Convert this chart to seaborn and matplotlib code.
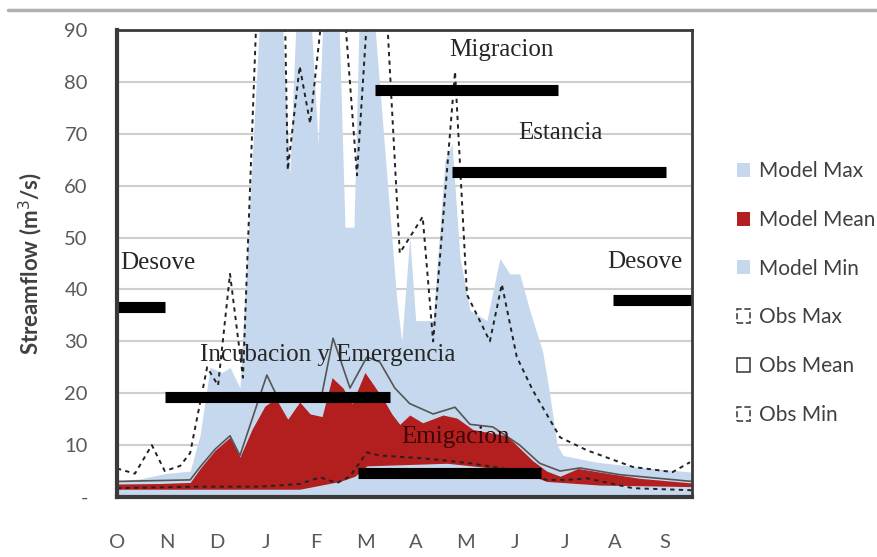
import numpy as np
import pandas as pd
import matplotlib
matplotlib.use("Agg")
import matplotlib.pyplot as plt
from matplotlib.patches import Patch
from matplotlib.lines import Line2D
import seaborn as sns

# x is months since 1 Oct (water year)
MONTH_LABELS = ["O", "N", "D", "J", "F", "M", "A", "M", "J", "J", "A", "S"]

max_x = [0.00, 0.46, 0.96, 1.47, 1.67, 1.87, 2.11, 2.27, 2.47, 2.91, 3.29, 3.47,
         3.61, 3.88, 4.04, 4.16, 4.44, 4.58, 4.76, 4.88, 5.12, 5.62, 5.72, 5.88,
         6.00, 6.35, 6.59, 6.73, 6.89, 7.09, 7.43, 7.69, 7.89, 8.09, 8.29, 8.55,
         8.69, 8.84, 8.96, 9.64, 10.64, 11.55]
max_y = [3.0, 3.5, 4.5, 5.0, 12, 25, 24, 25, 21, 100, 98, 62,
         95, 95, 68, 98, 98, 52, 52, 98, 98, 38, 30, 50,
         34, 34, 65, 68, 46, 36, 34, 46, 43, 43, 36, 28,
         20, 10, 8, 6.7, 5.6, 4.8]

mean_x = [0.00, 0.86, 1.47, 1.67, 1.97, 2.27, 2.47, 2.71, 2.97, 3.19, 3.43, 3.67,
          3.88, 4.12, 4.32, 4.54, 4.72, 4.98, 5.34, 5.52, 5.68, 5.88, 6.14, 6.55,
          6.83, 7.15, 7.83, 8.35, 8.63, 8.90, 9.26, 9.70, 10.50, 11.55]
mean_y = [2.5, 2.6, 2.8, 5.5, 9, 11.5, 7.7, 13, 17.5, 19, 15, 18.3,
          16, 15.5, 23, 21, 18, 24, 19, 16, 14, 15.8, 14.3, 15.8,
          15.2, 13, 11.8, 7, 5, 4, 5.5, 4.8, 3.6, 2.7]

min_x = [0.00, 3.67, 4.48, 4.78, 5.02, 6.63, 8.09, 8.63, 9.70, 11.55]
min_y = [1.5, 1.5, 3, 4, 6, 6.5, 5, 3, 2.3, 2.0]

obs_max_x = [0.00, 0.36, 0.70, 0.96, 1.27, 1.47, 1.81, 2.03, 2.27, 2.53, 2.81, 3.37,
             3.43, 3.67, 3.88, 4.14, 4.56, 4.82, 5.04, 5.41, 5.68, 6.14, 6.35, 6.79,
             7.03, 7.49, 7.73, 8.03, 8.35, 8.90, 9.44, 10.36, 11.16, 11.51]
obs_max_y = [5.5, 4.5, 10, 5, 6, 8.5, 25, 21.5, 43, 23, 95, 95,
             63, 83, 72, 95, 95, 62, 95, 95, 47, 54, 30, 82,
             39, 30, 41, 27, 20.6, 11.5, 9, 5.8, 4.8, 6.7]

obs_mean_x = [0.00, 1.47, 1.67, 1.97, 2.27, 2.47, 3.01, 3.21, 3.47, 3.78, 4.12, 4.34,
              4.68, 5.02, 5.28, 5.58, 5.88, 6.35, 6.79, 7.09, 7.55, 8.09, 8.49, 8.90,
              9.30, 10.10, 11.55]
obs_mean_y = [3.0, 3.3, 5.8, 9.2, 11.8, 8, 23.5, 19.5, 19, 19.5, 20, 30.6,
              21, 27, 26, 21, 18, 16, 17.3, 14, 13.5, 10, 6.5, 5,
              5.6, 4.3, 3.0]

obs_min_x = [0.00, 1.67, 2.87, 3.67, 4.08, 4.42, 4.68, 5.02, 5.28, 6.08, 6.63, 7.09,
             8.09, 8.63, 9.04, 9.44, 10.36, 11.55]
obs_min_y = [1.7, 2.0, 2.0, 2.5, 3.8, 2.7, 4.0, 8.6, 8.0, 7.5, 7.0, 6.5,
             5.0, 3.3, 3.3, 3.6, 1.7, 1.3]

# life stages: name, start month, end month, level
stage_names = ["Desove", "Incubacion y Emergencia", "Migracion", "Estancia", "Desove", "Emigacion"]
stage_start = [0.00, 0.96, 5.18, 6.73, 9.96, 4.84]
stage_end = [0.96, 5.48, 8.86, 11.02, 11.55, 8.51]
stage_level = [36.6, 19.3, 78.4, 62.6, 38.0, 4.6]

LIGHT_BLUE = "#c5d8ed"
RED = "#b31e1e"

sns.set_theme(style="white")
plt.rcParams["font.family"] = ["Lato", "DejaVu Sans"]

fig = plt.figure(figsize=(8.78, 5.57), dpi=100)
ax = fig.add_axes([117 / 878, 1 - 497 / 557, 575 / 878, 467 / 557])

ax.set_axisbelow(True)
ax.yaxis.grid(True, color="#cfcfcf", linewidth=1.5, zorder=0)

ax.fill_between(max_x, 0, max_y, color=LIGHT_BLUE, linewidth=0, zorder=1)
ax.fill_between(mean_x, 0, mean_y, color=RED, linewidth=0, zorder=2)
ax.fill_between(min_x, 0, min_y, color=LIGHT_BLUE, linewidth=0, zorder=3)

obs = pd.DataFrame({"x": obs_max_x, "y": obs_max_y})
sns.lineplot(data=obs, x="x", y="y", ax=ax, color="#222222", linewidth=1.4,
             linestyle=(0, (2.2, 2.2)), zorder=4)
obs = pd.DataFrame({"x": obs_mean_x, "y": obs_mean_y})
sns.lineplot(data=obs, x="x", y="y", ax=ax, color="#555555", linewidth=1.2, zorder=4)
obs = pd.DataFrame({"x": obs_min_x, "y": obs_min_y})
sns.lineplot(data=obs, x="x", y="y", ax=ax, color="#222222", linewidth=1.4,
             linestyle=(0, (2.2, 2.2)), zorder=4)

ax.hlines(stage_level, stage_start, stage_end, color="black", linewidth=8,
          capstyle="butt", zorder=6)

serif = dict(family="Liberation Serif", fontsize=18, zorder=7, va="center")
label_pos = [(0.06, 45.1, "left"), (1.67, 27.4, "left"), (7.73, 86.1, "center"),
             (8.90, 70.1, "center"), (10.60, 45.3, "center"), (6.79, 11.6, "center")]
for name, (tx, ty, ha) in zip(stage_names, label_pos):
    c = "#3a0606" if name == "Emigacion" else "#262626"
    ax.text(tx, ty, name, ha=ha, color=c, **serif)

ax.set_xlim(0, 11.55)
ax.set_ylim(0, 90)
ax.set_xticks(range(12))
ax.set_xticklabels(MONTH_LABELS)
ax.set_yticks(range(0, 91, 10))
ax.set_yticklabels(["-"] + [str(v) for v in range(10, 91, 10)])
ax.tick_params(axis="both", length=0, labelsize=14.5, labelcolor="#595959")
ax.tick_params(axis="y", pad=21)
ax.tick_params(axis="x", pad=27)
ax.set_xlabel("")
ax.set_ylabel("Streamflow (m$^3$/s)", fontsize=16, fontweight="bold", color="#404040")
ax.yaxis.set_label_coords(-0.125, 0.5)

for side, sp in ax.spines.items():
    sp.set_visible(True)
    sp.set_color("#3a3a3a")
    sp.set_linewidth(3 if side in ("left", "bottom") else 2)
    sp.set_zorder(8)

handles = [
    Patch(facecolor=LIGHT_BLUE, edgecolor="none"),
    Patch(facecolor=RED, edgecolor="none"),
    Patch(facecolor=LIGHT_BLUE, edgecolor="none"),
    Patch(facecolor="none", edgecolor="#444444", linestyle="--", linewidth=1.2),
    Patch(facecolor="none", edgecolor="#444444", linewidth=1.2),
    Patch(facecolor="none", edgecolor="#444444", linestyle="--", linewidth=1.2),
]
labels = ["Model Max", "Model Mean", "Model Min", "Obs Max", "Obs Mean", "Obs Min"]
fig.legend(handles, labels, loc="center left", bbox_to_anchor=(718 / 878, 1 - 293 / 557),
           frameon=False, fontsize=15, labelcolor="#404040", labelspacing=1.38,
           handlelength=0.65, handleheight=0.65, handletextpad=0.4)

fig.add_artist(Line2D([8 / 878, 1], [1 - 10 / 557, 1 - 10 / 557], color="#b0b0b0",
                      linewidth=2.5, transform=fig.transFigure))

fig.savefig("out.png", dpi=100)
